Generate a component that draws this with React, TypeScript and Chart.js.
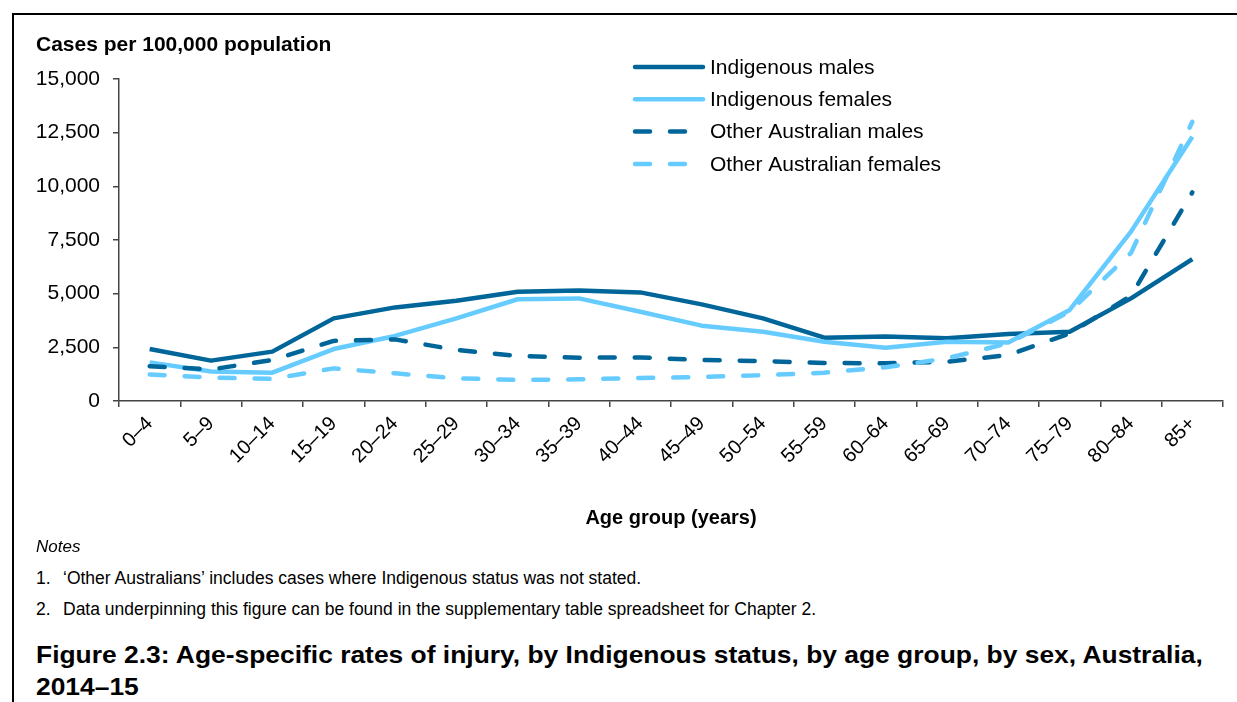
import React, { useEffect, useRef } from "react";
import { Chart, registerables } from "chart.js";

Chart.register(...registerables);

const ageGroups = ["0–4", "5–9", "10–14", "15–19", "20–24", "25–29", "30–34", "35–39", "40–44", "45–49", "50–54", "55–59", "60–64", "65–69", "70–74", "75–79", "80–84", "85+"];

const indigenousMales = [2420, 1880, 2300, 3850, 4360, 4670, 5090, 5150, 5060, 4500, 3850, 2950, 3000, 2920, 3120, 3230, 4780, 6610];
const indigenousFemales = [1800, 1370, 1320, 2420, 3030, 3850, 4740, 4780, 4160, 3510, 3230, 2760, 2480, 2760, 2720, 4240, 7890, 12310];
const otherMales = [1620, 1470, 1910, 2800, 2870, 2380, 2100, 2020, 2030, 1910, 1860, 1770, 1760, 1830, 2140, 3150, 4900, 9720];
const otherFemales = [1240, 1090, 1030, 1520, 1290, 1060, 980, 1010, 1070, 1120, 1200, 1320, 1570, 1990, 2690, 4160, 6900, 13010];

const seriesLabels = ["Indigenous males", "Indigenous females", "Other Australian males", "Other Australian females"];
const yTicks = [0, 2500, 5000, 7500, 10000, 12500, 15000];
const yTitle = "Cases per 100,000 population";
const xTitle = "Age group (years)";
const notes = [
  "‘Other Australians’ includes cases where Indigenous status was not stated.",
  "Data underpinning this figure can be found in the supplementary table spreadsheet for Chapter 2.",
];
const figTitle1 = "Figure 2.3: Age-specific rates of injury, by Indigenous status, by age group, by sex, Australia,";
const figTitle2 = "2014–15";

const DARK = "#00669a";
const LIGHT = "#66ccff";
const FONT = "'Liberation Sans', Arial, sans-serif";
const DASH = [15, 20];

const annotPlugin = {
  id: "annot",
  afterDraw(chart: any) {
    const ctx = chart.ctx;
    ctx.save();
    ctx.fillStyle = "#000";
    ctx.textBaseline = "middle";
    ctx.textAlign = "left";
    ctx.font = `bold 21px ${FONT}`;
    ctx.fillText(yTitle, 36, 45);
    chart.data.datasets.forEach((ds: any, i: number) => {
      const y = 67 + i * 32.3;
      ctx.strokeStyle = ds.borderColor;
      ctx.lineWidth = ds.borderWidth;
      ctx.lineCap = "round";
      ctx.setLineDash(ds.borderDash || []);
      ctx.beginPath();
      ctx.moveTo(635, y);
      ctx.lineTo(703, y);
      ctx.stroke();
      ctx.setLineDash([]);
      ctx.font = `21px ${FONT}`;
      ctx.fillStyle = "#000";
      ctx.fillText(ds.label, 710, y + 1);
    });
    ctx.restore();
  },
};

export default function App() {
  const ref = useRef<HTMLCanvasElement | null>(null);

  useEffect(() => {
    if (!ref.current) return;
    const mk = (label: string, data: number[], color: string, dashed: boolean, order: number) => ({
      label,
      data,
      borderColor: color,
      backgroundColor: color,
      borderWidth: 4.5,
      borderDash: dashed ? DASH : [],
      borderCapStyle: dashed ? "round" : "butt",
      borderJoinStyle: "round",
      pointRadius: 0,
      tension: 0,
      fill: false,
      order,
    });
    const chart = new Chart(ref.current, {
      type: "line",
      data: {
        labels: ageGroups,
        datasets: [
          mk(seriesLabels[0], indigenousMales, DARK, false, 3),
          mk(seriesLabels[1], indigenousFemales, LIGHT, false, 2),
          mk(seriesLabels[2], otherMales, DARK, true, 1),
          mk(seriesLabels[3], otherFemales, LIGHT, true, 0),
        ] as any,
      },
      options: {
        responsive: false,
        animation: false,
        layout: { padding: { left: 0, right: 14, top: 79, bottom: 10 } },
        plugins: {
          legend: { display: false },
          tooltip: { enabled: false },
          title: { display: false },
        },
        scales: {
          x: {
            type: "category",
            offset: true,
            grid: { offset: true, drawOnChartArea: false, drawTicks: true, tickLength: 6, color: "#444", lineWidth: 1.5 },
            border: { display: true, color: "#444", width: 1.5 },
            ticks: {
              color: "#000",
              font: { family: FONT, size: 20 },
              maxRotation: 45,
              minRotation: 45,
              autoSkip: false,
              padding: 5,
            },
            title: {
              display: true,
              text: xTitle,
              color: "#000",
              font: { family: FONT, size: 20, weight: "bold" },
              padding: 0,
            },
            afterFit: (s: any) => {
              s.height = 129;
            },
          },
          y: {
            min: 0,
            max: 15000,
            afterBuildTicks: (s: any) => {
              s.ticks = yTicks.map((v) => ({ value: v }));
            },
            grid: { drawOnChartArea: false, drawTicks: true, tickLength: 6, color: "#444", lineWidth: 1.5 },
            border: { display: true, color: "#444", width: 1.5 },
            ticks: {
              color: "#000",
              font: { family: FONT, size: 21 },
              padding: 13,
              callback: (v: any) => Number(v).toLocaleString("en-US"),
            },
            afterFit: (s: any) => {
              s.width = 119;
            },
          },
        },
      },
      plugins: [annotPlugin],
    });
    return () => chart.destroy();
  }, []);

  return (
    <div style={{ position: "absolute", left: 0, top: 0, width: 1237, height: 702, background: "#fff", overflow: "hidden", fontFamily: FONT, color: "#000" }}>
      <div style={{ position: "absolute", left: 12, top: 13, width: 1300, height: 760, borderLeft: "2px solid #000", borderTop: "2px solid #000" }} />
      <canvas ref={ref} width={1237} height={540} style={{ position: "absolute", left: 0, top: 0, width: 1237, height: 540, display: "block" }} />
      <div style={{ position: "absolute", left: 36, top: 537, fontStyle: "italic", fontSize: 17, lineHeight: "20px", whiteSpace: "nowrap" }}>Notes</div>
      {notes.map((n, i) => (
        <div key={i} style={{ position: "absolute", left: 36, top: 568 + i * 31, fontSize: 17.5, lineHeight: "20px", whiteSpace: "nowrap" }}>
          <span style={{ display: "inline-block", width: 27 }}>{i + 1}.</span>
          {n}
        </div>
      ))}
      <div style={{ position: "absolute", left: 36, top: 639, fontSize: 24, fontWeight: "bold", lineHeight: "32px", whiteSpace: "nowrap", transform: "scaleX(1.1)", transformOrigin: "left top" }}>
        {figTitle1}
        <br />
        {figTitle2}
      </div>
    </div>
  );
}
